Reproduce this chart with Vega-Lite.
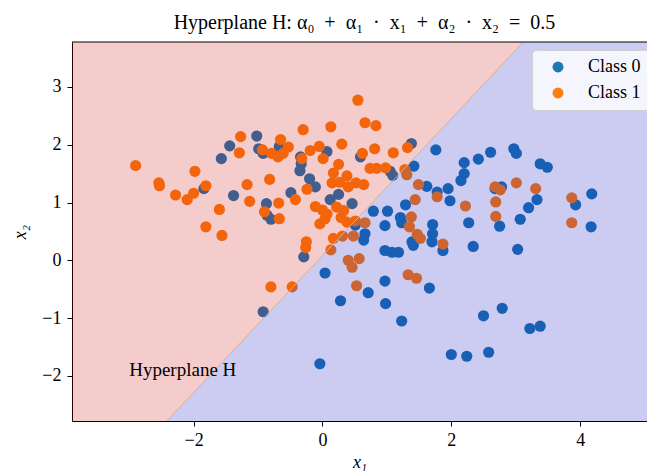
{
  "$schema": "https://vega.github.io/schema/vega-lite/v6.json",
  "width": 575,
  "height": 379,
  "autosize": "none",
  "padding": {"left": 72, "top": 42, "right": 0, "bottom": 50},
  "background": "white",
  "config": {"view": {"stroke": null}, "font": "Liberation Serif"},
  "title": {"text": "Hyperplane H: α₀\u2002+\u2002α₁\u2002·\u2002x₁\u2002+\u2002α₂\u2002·\u2002x₂\u2002=\u20020.5", "font": "Liberation Serif", "fontSize": 20, "fontWeight": "normal", "color": "black", "anchor": "middle", "offset": 9, "dx": 5},
  "datasets": {
    "points": [
      {"x1": -1.02, "x2": 2.15, "cls": "Class 0"}, {"x1": -1.44, "x2": 1.98, "cls": "Class 0"}, {"x1": -1.57, "x2": 1.76, "cls": "Class 0"}, {"x1": -0.99, "x2": 1.93, "cls": "Class 0"}, {"x1": -0.92, "x2": 1.85, "cls": "Class 0"}, {"x1": -0.67, "x2": 1.97, "cls": "Class 0"}, {"x1": -0.34, "x2": 1.79, "cls": "Class 0"}, {"x1": -0.33, "x2": 1.67, "cls": "Class 0"}, {"x1": -0.35, "x2": 1.55, "cls": "Class 0"}, {"x1": -0.2, "x2": 1.41, "cls": "Class 0"},
      {"x1": -0.11, "x2": 1.27, "cls": "Class 0"}, {"x1": -0.49, "x2": 1.17, "cls": "Class 0"}, {"x1": -1.38, "x2": 1.12, "cls": "Class 0"}, {"x1": -1.84, "x2": 1.24, "cls": "Class 0"}, {"x1": -0.87, "x2": 0.98, "cls": "Class 0"}, {"x1": -0.86, "x2": 0.78, "cls": "Class 0"}, {"x1": -0.8, "x2": 0.71, "cls": "Class 0"}, {"x1": 0.07, "x2": 1.88, "cls": "Class 0"}, {"x1": 0.12, "x2": 1.05, "cls": "Class 0"}, {"x1": 0.25, "x2": 1.14, "cls": "Class 0"},
      {"x1": 0.46, "x2": 0.98, "cls": "Class 0"}, {"x1": 0.59, "x2": 1.79, "cls": "Class 0"}, {"x1": 1.38, "x2": 2.02, "cls": "Class 0"}, {"x1": 1.76, "x2": 1.91, "cls": "Class 0"}, {"x1": 1.42, "x2": 1.63, "cls": "Class 0"}, {"x1": 1.05, "x2": 1.54, "cls": "Class 0"}, {"x1": 1.09, "x2": 1.47, "cls": "Class 0"}, {"x1": 2.2, "x2": 1.69, "cls": "Class 0"}, {"x1": 2.42, "x2": 1.75, "cls": "Class 0"}, {"x1": 2.61, "x2": 1.87, "cls": "Class 0"},
      {"x1": 2.97, "x2": 1.93, "cls": "Class 0"}, {"x1": 3.01, "x2": 1.85, "cls": "Class 0"}, {"x1": 3.38, "x2": 1.67, "cls": "Class 0"}, {"x1": 3.49, "x2": 1.61, "cls": "Class 0"}, {"x1": 2.2, "x2": 1.5, "cls": "Class 0"}, {"x1": 2.15, "x2": 1.38, "cls": "Class 0"}, {"x1": 1.95, "x2": 1.24, "cls": "Class 0"}, {"x1": 1.62, "x2": 1.28, "cls": "Class 0"}, {"x1": 1.78, "x2": 1.18, "cls": "Class 0"}, {"x1": 1.98, "x2": 1.03, "cls": "Class 0"},
      {"x1": 1.29, "x2": 0.96, "cls": "Class 0"}, {"x1": 0.79, "x2": 0.85, "cls": "Class 0"}, {"x1": 1.01, "x2": 0.85, "cls": "Class 0"}, {"x1": 1.21, "x2": 0.74, "cls": "Class 0"}, {"x1": 1.23, "x2": 0.65, "cls": "Class 0"}, {"x1": 0.97, "x2": 0.6, "cls": "Class 0"}, {"x1": 1.71, "x2": 0.62, "cls": "Class 0"}, {"x1": 1.71, "x2": 0.46, "cls": "Class 0"}, {"x1": 2.27, "x2": 0.65, "cls": "Class 0"}, {"x1": 2.75, "x2": 0.59, "cls": "Class 0"},
      {"x1": 2.68, "x2": 1.24, "cls": "Class 0"}, {"x1": 2.78, "x2": 1.27, "cls": "Class 0"}, {"x1": 3.07, "x2": 0.71, "cls": "Class 0"}, {"x1": 3.2, "x2": 0.91, "cls": "Class 0"}, {"x1": 3.33, "x2": 1.05, "cls": "Class 0"}, {"x1": 3.93, "x2": 0.96, "cls": "Class 0"}, {"x1": 4.18, "x2": 1.15, "cls": "Class 0"}, {"x1": 4.17, "x2": 0.58, "cls": "Class 0"}, {"x1": 0.66, "x2": 0.46, "cls": "Class 0"}, {"x1": 0.64, "x2": 0.35, "cls": "Class 0"},
      {"x1": 0.51, "x2": 0.61, "cls": "Class 0"}, {"x1": 1.41, "x2": 0.26, "cls": "Class 0"}, {"x1": 1.39, "x2": 0.32, "cls": "Class 0"}, {"x1": 1.7, "x2": 0.32, "cls": "Class 0"}, {"x1": 1.87, "x2": 0.17, "cls": "Class 0"}, {"x1": 0.97, "x2": 0.17, "cls": "Class 0"}, {"x1": 1.08, "x2": 0.14, "cls": "Class 0"}, {"x1": 1.18, "x2": 0.14, "cls": "Class 0"}, {"x1": 2.34, "x2": 0.24, "cls": "Class 0"}, {"x1": 3.03, "x2": 0.19, "cls": "Class 0"},
      {"x1": 0.97, "x2": -0.36, "cls": "Class 0"}, {"x1": 0.71, "x2": -0.56, "cls": "Class 0"}, {"x1": 0.98, "x2": -0.75, "cls": "Class 0"}, {"x1": 1.23, "x2": -1.05, "cls": "Class 0"}, {"x1": 1.66, "x2": -0.48, "cls": "Class 0"}, {"x1": 2.5, "x2": -0.96, "cls": "Class 0"}, {"x1": 2.79, "x2": -0.83, "cls": "Class 0"}, {"x1": 3.22, "x2": -1.18, "cls": "Class 0"}, {"x1": 3.38, "x2": -1.14, "cls": "Class 0"}, {"x1": 2.0, "x2": -1.63, "cls": "Class 0"},
      {"x1": 2.24, "x2": -1.66, "cls": "Class 0"}, {"x1": 2.58, "x2": -1.59, "cls": "Class 0"}, {"x1": -0.29, "x2": 0.06, "cls": "Class 0"}, {"x1": -0.92, "x2": -0.89, "cls": "Class 0"}, {"x1": 0.04, "x2": -0.22, "cls": "Class 0"}, {"x1": 0.28, "x2": -0.7, "cls": "Class 0"}, {"x1": -0.04, "x2": -1.79, "cls": "Class 0"},
      {"x1": -2.9, "x2": 1.64, "cls": "Class 1"}, {"x1": -2.54, "x2": 1.34, "cls": "Class 1"}, {"x1": -2.53, "x2": 1.29, "cls": "Class 1"}, {"x1": -2.28, "x2": 1.13, "cls": "Class 1"}, {"x1": -2.1, "x2": 1.05, "cls": "Class 1"}, {"x1": -2.0, "x2": 1.16, "cls": "Class 1"}, {"x1": -1.98, "x2": 1.54, "cls": "Class 1"}, {"x1": -1.81, "x2": 1.29, "cls": "Class 1"}, {"x1": -1.6, "x2": 0.88, "cls": "Class 1"}, {"x1": -1.81, "x2": 0.58, "cls": "Class 1"},
      {"x1": -1.56, "x2": 0.43, "cls": "Class 1"}, {"x1": -1.27, "x2": 2.14, "cls": "Class 1"}, {"x1": -1.29, "x2": 1.86, "cls": "Class 1"}, {"x1": -1.17, "x2": 1.31, "cls": "Class 1"}, {"x1": -1.13, "x2": 1.02, "cls": "Class 1"}, {"x1": -0.9, "x2": 0.84, "cls": "Class 1"}, {"x1": -0.68, "x2": 0.99, "cls": "Class 1"}, {"x1": -0.67, "x2": 0.72, "cls": "Class 1"}, {"x1": -0.82, "x2": 1.4, "cls": "Class 1"}, {"x1": -0.93, "x2": 1.91, "cls": "Class 1"},
      {"x1": -0.79, "x2": 1.85, "cls": "Class 1"}, {"x1": -0.69, "x2": 1.79, "cls": "Class 1"}, {"x1": -0.61, "x2": 1.85, "cls": "Class 1"}, {"x1": -0.53, "x2": 1.96, "cls": "Class 1"}, {"x1": -0.65, "x2": 2.09, "cls": "Class 1"}, {"x1": -0.3, "x2": 2.26, "cls": "Class 1"}, {"x1": -0.32, "x2": 1.76, "cls": "Class 1"}, {"x1": -0.24, "x2": 1.23, "cls": "Class 1"}, {"x1": -0.42, "x2": 1.05, "cls": "Class 1"}, {"x1": -0.19, "x2": 1.9, "cls": "Class 1"},
      {"x1": -0.05, "x2": 1.97, "cls": "Class 1"}, {"x1": 0.01, "x2": 1.76, "cls": "Class 1"}, {"x1": 0.13, "x2": 2.31, "cls": "Class 1"}, {"x1": 0.3, "x2": 2.01, "cls": "Class 1"}, {"x1": 0.25, "x2": 1.66, "cls": "Class 1"}, {"x1": 0.17, "x2": 1.51, "cls": "Class 1"}, {"x1": 0.15, "x2": 1.34, "cls": "Class 1"}, {"x1": 0.27, "x2": 1.35, "cls": "Class 1"}, {"x1": 0.38, "x2": 1.46, "cls": "Class 1"}, {"x1": 0.52, "x2": 1.34, "cls": "Class 1"},
      {"x1": 0.64, "x2": 1.31, "cls": "Class 1"}, {"x1": 0.4, "x2": 1.27, "cls": "Class 1"}, {"x1": -0.11, "x2": 0.93, "cls": "Class 1"}, {"x1": 0.0, "x2": 0.87, "cls": "Class 1"}, {"x1": 0.07, "x2": 0.8, "cls": "Class 1"}, {"x1": -0.04, "x2": 0.63, "cls": "Class 1"}, {"x1": 0.22, "x2": 0.92, "cls": "Class 1"}, {"x1": 0.33, "x2": 0.86, "cls": "Class 1"}, {"x1": 0.29, "x2": 0.74, "cls": "Class 1"}, {"x1": 0.38, "x2": 0.66, "cls": "Class 1"},
      {"x1": 0.51, "x2": 0.68, "cls": "Class 1"}, {"x1": 0.55, "x2": 2.77, "cls": "Class 1"}, {"x1": 0.66, "x2": 2.38, "cls": "Class 1"}, {"x1": 0.83, "x2": 2.33, "cls": "Class 1"}, {"x1": 0.62, "x2": 1.85, "cls": "Class 1"}, {"x1": 0.81, "x2": 1.93, "cls": "Class 1"}, {"x1": 1.1, "x2": 1.86, "cls": "Class 1"}, {"x1": 1.32, "x2": 1.95, "cls": "Class 1"}, {"x1": 0.74, "x2": 1.59, "cls": "Class 1"}, {"x1": 0.84, "x2": 1.59, "cls": "Class 1"},
      {"x1": 0.98, "x2": 1.6, "cls": "Class 1"}, {"x1": 1.28, "x2": 1.57, "cls": "Class 1"}, {"x1": -0.25, "x2": 0.32, "cls": "Class 1"}, {"x1": -0.26, "x2": 0.22, "cls": "Class 1"}, {"x1": 0.17, "x2": 0.38, "cls": "Class 1"}, {"x1": 0.31, "x2": 0.42, "cls": "Class 1"}, {"x1": 0.48, "x2": 0.42, "cls": "Class 1"}, {"x1": 0.13, "x2": 0.18, "cls": "Class 1"}, {"x1": -0.8, "x2": -0.46, "cls": "Class 1"}, {"x1": -0.47, "x2": -0.46, "cls": "Class 1"},
      {"x1": 0.66, "x2": 0.65, "cls": "Class 1"}, {"x1": 0.4, "x2": 0.0, "cls": "Class 1"}, {"x1": 0.57, "x2": 0.03, "cls": "Class 1"}, {"x1": 0.46, "x2": -0.12, "cls": "Class 1"}, {"x1": 0.53, "x2": -0.44, "cls": "Class 1"}, {"x1": 1.31, "x2": 1.48, "cls": "Class 1"}, {"x1": 1.49, "x2": 1.31, "cls": "Class 1"}, {"x1": 1.44, "x2": 1.05, "cls": "Class 1"}, {"x1": 1.78, "x2": 1.1, "cls": "Class 1"}, {"x1": 2.22, "x2": 0.94, "cls": "Class 1"},
      {"x1": 2.68, "x2": 1.27, "cls": "Class 1"}, {"x1": 2.76, "x2": 1.22, "cls": "Class 1"}, {"x1": 2.69, "x2": 1.01, "cls": "Class 1"}, {"x1": 2.69, "x2": 0.76, "cls": "Class 1"}, {"x1": 3.01, "x2": 1.34, "cls": "Class 1"}, {"x1": 3.31, "x2": 1.24, "cls": "Class 1"}, {"x1": 3.87, "x2": 1.08, "cls": "Class 1"}, {"x1": 3.87, "x2": 0.65, "cls": "Class 1"}, {"x1": 1.38, "x2": 0.75, "cls": "Class 1"}, {"x1": 1.35, "x2": 0.58, "cls": "Class 1"},
      {"x1": 1.47, "x2": 0.45, "cls": "Class 1"}, {"x1": 1.52, "x2": 0.38, "cls": "Class 1"}, {"x1": 1.33, "x2": -0.25, "cls": "Class 1"}, {"x1": 1.46, "x2": -0.31, "cls": "Class 1"}, {"x1": 1.87, "x2": 0.28, "cls": "Class 1"}, {"x1": 0.04, "x2": 0.72, "cls": "Class 1"}
    ],
    "pink": [
      {"x1": -3.888, "x2": -2.78, "x2b": 3.777},
      {"x1": -2.414, "x2": -2.78, "x2b": 3.777},
      {"x1": 3.119, "x2": 3.777, "x2b": 3.777}
    ],
    "blue": [
      {"x1": -2.414, "x2": -2.78, "x2b": -2.78},
      {"x1": 3.119, "x2": -2.78, "x2b": 3.777},
      {"x1": 5.038, "x2": -2.78, "x2b": 3.777}
    ],
    "line": [
      {"x1": -2.414, "x2": -2.78},
      {"x1": 3.119, "x2": 3.777}
    ],
    "label": [
      {"x1": -3.0, "x2": -2.0, "t": "Hyperplane H"}
    ]
  },
  "layer": [
    {
      "data": {"name": "points"},
      "mark": {"type": "circle", "size": 125, "opacity": 1},
      "encoding": {
        "x": {"field": "x1", "type": "quantitative", "scale": {"domain": [-3.888, 5.038], "nice": false, "zero": false},
          "axis": {"title": "x₁", "values": [-2, 0, 2, 4], "format": "d", "grid": false, "domainColor": "black", "tickColor": "black", "tickSize": 5, "labelFontSize": 18, "labelColor": "black", "labelPadding": 5, "titleFontSize": 18, "titleFontStyle": "italic", "titleFontWeight": "normal", "titleColor": "black", "titlePadding": 4, "labelFont": "Liberation Serif", "titleFont": "Liberation Serif"}},
        "y": {"field": "x2", "type": "quantitative", "scale": {"domain": [-2.78, 3.777], "nice": false, "zero": false},
          "axis": {"title": "x₂", "values": [-2, -1, 0, 1, 2, 3], "format": "d", "grid": false, "domainColor": "black", "tickColor": "black", "tickSize": 5, "labelFontSize": 18, "labelColor": "black", "labelPadding": 6, "titleFontSize": 18, "titleFontStyle": "italic", "titleFontWeight": "normal", "titleColor": "black", "titlePadding": 12, "labelFont": "Liberation Serif", "titleFont": "Liberation Serif"}},
        "color": {"field": "cls", "type": "nominal", "scale": {"domain": ["Class 0", "Class 1"], "range": ["#1f77b4", "#ff7f0e"]},
          "legend": {"title": null, "orient": "none", "legendX": 460, "legendY": 8, "fillColor": "rgba(255,255,255,0.8)", "strokeColor": "#d0d0d0", "cornerRadius": 4, "padding": 8, "symbolType": "circle", "symbolSize": 120, "symbolOffset": 9, "labelOffset": 21, "labelFontSize": 18, "labelFont": "Liberation Serif", "labelColor": "black", "rowPadding": 8, "symbolOpacity": 1}}
      }
    },
    {
      "data": {"name": "pink"},
      "mark": {"type": "area", "color": "#c80000", "opacity": 0.2, "clip": true},
      "encoding": {"x": {"field": "x1", "type": "quantitative"}, "y": {"field": "x2", "type": "quantitative"}, "y2": {"field": "x2b"}}
    },
    {
      "data": {"name": "blue"},
      "mark": {"type": "area", "color": "#0000be", "opacity": 0.2, "clip": true},
      "encoding": {"x": {"field": "x1", "type": "quantitative"}, "y": {"field": "x2", "type": "quantitative"}, "y2": {"field": "x2b"}}
    },
    {
      "data": {"name": "line"},
      "mark": {"type": "line", "color": "#d4b096", "strokeWidth": 1, "clip": true},
      "encoding": {"x": {"field": "x1", "type": "quantitative"}, "y": {"field": "x2", "type": "quantitative"}}
    },
    {
      "data": {"name": "label"},
      "mark": {"type": "text", "align": "left", "baseline": "alphabetic", "fontSize": 19, "font": "Liberation Serif", "color": "black"},
      "encoding": {"x": {"field": "x1", "type": "quantitative"}, "y": {"field": "x2", "type": "quantitative"}, "text": {"field": "t"}}
    },
    {
      "data": {"values": [{"top": 3.777}]},
      "mark": {"type": "rule", "color": "black", "strokeWidth": 1},
      "encoding": {"y": {"field": "top", "type": "quantitative"}}
    }
  ]
}
